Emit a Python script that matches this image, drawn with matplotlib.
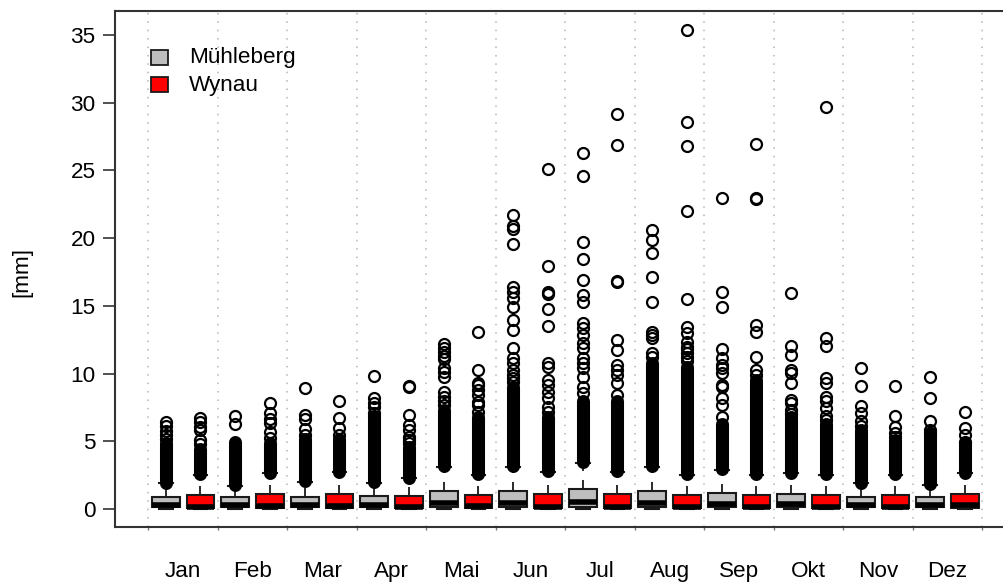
import matplotlib
matplotlib.use("Agg")
import matplotlib.pyplot as plt
from matplotlib.patches import Rectangle

plt.rcParams["font.family"] = ["Liberation Sans", "DejaVu Sans"]

# ---------------- data ----------------
months = ["Jan", "Feb", "Mar", "Apr", "Mai", "Jun", "Jul", "Aug", "Sep", "Okt", "Nov", "Dez"]
stations = ["Mühleberg", "Wynau"]

# Mühleberg (grey)
mue_q1 = [0.15] * 12
mue_med = [0.30, 0.30, 0.30, 0.30, 0.45, 0.45, 0.50, 0.45, 0.40, 0.35, 0.30, 0.30]
mue_q3 = [0.86, 0.85, 0.90, 0.95, 1.35, 1.35, 1.50, 1.35, 1.20, 1.10, 0.90, 0.86]
mue_whishi = [1.90, 1.70, 2.00, 1.95, 3.10, 3.10, 3.40, 3.10, 2.88, 2.64, 1.90, 1.77]
mue_dense_hi = [4.9, 4.95, 5.2, 6.7, 7.3, 9.0, 8.0, 10.8, 6.3, 6.8, 5.8, 5.6]
mue_outliers = [
    [6.4, 6.1, 5.75, 5.45, 5.15],
    [6.9, 6.25],
    [8.9, 6.94, 6.65, 5.9, 5.5],
    [9.82, 8.17, 7.8, 7.5, 7.1, 6.9],
    [12.2, 11.9, 11.6, 11.3, 11.1, 10.4, 10.1, 9.77, 8.66, 8.3, 8.0, 7.7],
    [21.7, 20.9, 20.7, 19.6, 16.37, 16.05, 15.56, 14.94, 13.96, 13.2, 11.87,
     11.13, 10.76, 10.27, 9.9, 9.65, 9.4],
    [26.27, 24.6, 19.7, 18.5, 16.9, 15.8, 15.3, 13.76, 13.35, 12.85, 12.24,
     11.87, 11.13, 10.76, 10.39, 9.77, 9.03, 8.6],
    [20.6, 19.87, 18.9, 17.1, 15.27, 13.1, 12.85, 12.6, 11.55, 11.2],
    [23.0, 16.0, 14.9, 11.8, 11.13, 10.63, 10.4, 10.02, 9.16, 9.0, 8.17, 7.68, 6.82],
    [15.93, 12.04, 11.37, 10.27, 10.02, 9.28, 8.05, 7.8, 7.31, 7.0],
    [10.39, 9.08, 7.6, 7.11, 6.52, 6.1],
    [9.77, 8.22, 6.52, 5.83, 5.6],
]

# Wynau (red)
wyn_q1 = [0.05] * 12
wyn_med = [0.15, 0.20, 0.20, 0.15, 0.20, 0.15, 0.15, 0.15, 0.15, 0.15, 0.15, 0.30]
wyn_q3 = [1.03, 1.10, 1.10, 0.95, 1.00, 1.10, 1.10, 1.00, 1.03, 1.00, 1.03, 1.10]
wyn_whishi = [2.50, 2.64, 2.70, 2.27, 2.50, 2.75, 2.75, 2.50, 2.50, 2.50, 2.50, 2.64]
wyn_dense_hi = [4.4, 4.9, 5.2, 4.6, 6.8, 6.8, 8.0, 10.5, 9.5, 6.3, 5.1, 4.85]
wyn_outliers = [
    [6.7, 6.4, 6.05, 5.85, 5.1, 4.8],
    [7.8, 7.07, 6.65, 6.35, 5.71, 5.24],
    [7.98, 6.7, 6.0, 5.45],
    [9.1, 9.0, 6.94, 6.2, 5.83, 5.34, 5.1, 4.85],
    [13.1, 10.27, 9.3, 9.16, 8.79, 8.42, 7.9, 7.68, 7.19],
    [25.1, 17.97, 16.05, 15.88, 14.75, 13.5, 10.76, 10.5, 9.53, 9.16, 8.66, 8.17, 7.56, 7.2],
    [29.2, 26.9, 16.83, 16.75, 12.48, 11.74, 10.63, 10.27, 9.9, 9.28, 8.42],
    [35.4, 28.56, 26.8, 22.0, 15.5, 13.46, 12.97, 12.36, 11.99, 11.8, 11.5, 11.2, 10.9],
    [26.96, 23.0, 22.9, 13.59, 13.1, 11.2, 10.27, 9.9],
    [29.7, 12.6, 12.04, 9.65, 9.28, 8.29, 8.0, 7.44, 6.9, 6.6],
    [9.08, 6.87, 6.08, 5.59, 5.35],
    [7.19, 6.0, 5.47, 4.97],
]
whislo = 0.0

# ---------------- figure ----------------
W, H = 1004, 583
fig = plt.figure(figsize=(W / 100, H / 100), dpi=100)
ax = fig.add_axes([115 / W, (H - 527) / H, 900.7 / W, 516 / H])

edge = "#1A1A1A"
colors = ["#BEBEBE", "#FF0000"]
FS = 16.2

stats, positions, facecols, dense_lo, dense_hi = [], [], [], [], []
for m in range(12):
    for s, (q1, med, q3, wh, dh, outl) in enumerate([
        (mue_q1, mue_med, mue_q3, mue_whishi, mue_dense_hi, mue_outliers),
        (wyn_q1, wyn_med, wyn_q3, wyn_whishi, wyn_dense_hi, wyn_outliers),
    ]):
        stats.append(dict(med=med[m], q1=q1[m], q3=q3[m], whislo=whislo,
                          whishi=wh[m], fliers=outl[m]))
        positions.append(2 * m + s + 1)
        facecols.append(colors[s])
        dense_lo.append(wh[m] + 0.05)
        dense_hi.append(dh[m])

# vertical dotted grid at group boundaries
bounds = [2 * m + 0.5 for m in range(13)]
for b in bounds:
    ax.axvline(b, color="#B4B4B4", lw=1.1, ls=(0, (1, 4.5)), zorder=0)

# dense stacks of outliers
vl = ax.vlines(positions, dense_lo, dense_hi, colors="black", linewidth=9.4, zorder=3)
vl.set_capstyle("round")

res = ax.bxp(stats, positions=positions, widths=0.8, capwidths=0.4,
             patch_artist=True, showfliers=True,
             boxprops=dict(edgecolor=edge, linewidth=1.5),
             whiskerprops=dict(color=edge, linewidth=1.3, linestyle=(0, (5, 5))),
             capprops=dict(color=edge, linewidth=1.5),
             medianprops=dict(color="black", linewidth=4.0, solid_capstyle="butt"),
             flierprops=dict(marker="o", markerfacecolor="none", markeredgecolor="black",
                             markersize=7.9, markeredgewidth=1.6))
for b, c in zip(res["boxes"], facecols):
    b.set_facecolor(c)

ax.set_xlim(-0.46, 25.46)
ax.set_ylim(-1.33, 36.78)

for sp in ax.spines.values():
    sp.set_color("#333333")
    sp.set_linewidth(1.5)

ax.set_yticks(range(0, 36, 5))
ax.tick_params(axis="y", length=9, width=1.2, pad=5, labelsize=FS, color="#333333")
ax.set_xticks(bounds)
ax.set_xticklabels([])
ax.tick_params(axis="x", length=2.5, width=1.0, color="#777777")

for m, name in enumerate(months):
    ax.text(2 * m + 1.5, -0.0853, name, transform=ax.get_xaxis_transform(),
            ha="center", va="center", fontsize=FS)

fig.text(22 / W, 1 - 272 / H, "[mm]", rotation=90, ha="center", va="center", fontsize=FS)

# legend
for i, (name, c) in enumerate(zip(stations, colors)):
    ytop = 50 + i * 27.5
    fig.patches.append(Rectangle((151 / W, 1 - (ytop + 15) / H), 17 / W, 15 / H,
                                 transform=fig.transFigure, facecolor=c,
                                 edgecolor=edge, linewidth=1.3))
    fig.text(189 / W, 1 - (ytop + 7.5) / H, name, ha="left", va="center", fontsize=FS)

fig.savefig("out.png", dpi=100)
